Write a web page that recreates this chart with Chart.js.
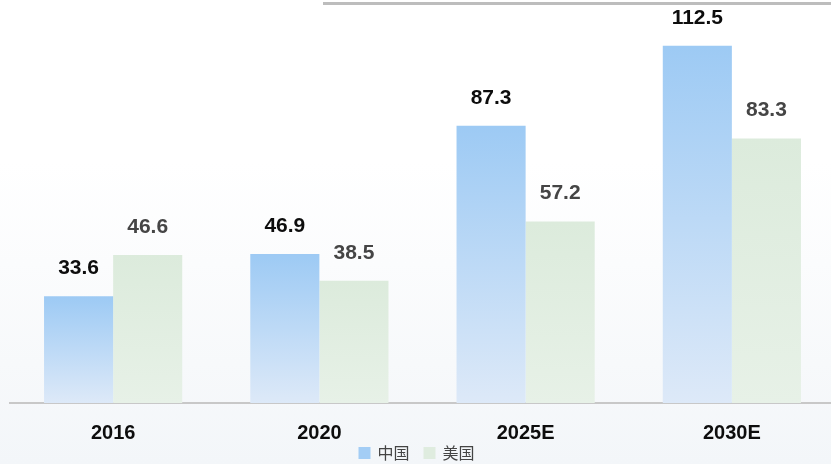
<!DOCTYPE html>
<html>
<head>
<meta charset="utf-8">
<script src="https://cdn.jsdelivr.net/npm/chart.js@4/dist/chart.umd.min.js"></script>
<style>
  html, body { margin: 0; padding: 0; background: #fff; overflow: hidden; }
  #wrap { width: 831px; height: 464px; overflow: hidden; background: linear-gradient(to bottom, #ffffff 0%, #ffffff 35%, #f3f6f9 100%); }
</style>
</head>
<body>
<div id="wrap"><canvas id="c" width="835" height="464"></canvas></div>
<script>
const years = ['2016', '2020', '2025E', '2030E'];
const chinaValues = [33.6, 46.9, 87.3, 112.5];
const usValues = [46.6, 38.5, 57.2, 83.3];
const seriesNames = ['中国', '美国'];

// gradient runs from the top of each bar down to the baseline
function barFill(top, bottom) {
  return function (ctx) {
    const chart = ctx.chart;
    const area = chart.chartArea;
    if (!area || ctx.type !== 'data') return top;
    const y = chart.scales.y.getPixelForValue(ctx.raw);
    const g = chart.ctx.createLinearGradient(0, y, 0, area.bottom);
    g.addColorStop(0, top);
    g.addColorStop(1, bottom);
    return g;
  };
}

const legendSwatches = ['#a3cdf5', '#dfecdf'];

// value labels, grey rule at the top right, small legend under the axis
const decor = {
  id: 'decor',
  beforeDraw(chart) {
    const c = chart.ctx;
    c.save();
    c.fillStyle = '#bdbdbd';
    c.fillRect(323, 2, 512, 3);
    c.restore();
  },
  afterDatasetsDraw(chart) {
    const c = chart.ctx;
    c.save();
    c.font = 'bold 21px "Liberation Sans", Arial, sans-serif';
    c.textAlign = 'center';
    c.textBaseline = 'middle';
    chart.data.datasets.forEach((ds, i) => {
      c.fillStyle = i === 0 ? '#0d0d0d' : '#454545';
      chart.getDatasetMeta(i).data.forEach((bar, j) => {
        c.fillText(ds.data[j].toFixed(1), bar.x, bar.y - 28);
      });
    });
    c.restore();
  },
  afterDraw(chart) {
    const c = chart.ctx;
    c.save();
    c.font = '16px "Noto Sans CJK SC", sans-serif';
    c.textBaseline = 'middle';
    const box = 12, gap = 7, between = 14, y = 453;
    const widths = seriesNames.map(n => c.measureText(n).width);
    let total = 0;
    widths.forEach((w, i) => { total += box + gap + w + (i ? between : 0); });
    let x = 416.5 - total / 2;
    seriesNames.forEach((n, i) => {
      c.fillStyle = legendSwatches[i];
      c.fillRect(x, y - box / 2, box, box);
      c.fillStyle = '#444';
      c.fillText(n, x + box + gap, y);
      x += box + gap + widths[i] + between;
    });
    c.restore();
  }
};

new Chart(document.getElementById('c'), {
  type: 'bar',
  data: {
    labels: years,
    datasets: [
      { label: seriesNames[0], data: chinaValues, backgroundColor: barFill('#9dcaf4', '#dde9f8') },
      { label: seriesNames[1], data: usValues, backgroundColor: barFill('#dcebdc', '#e7f1e7') }
    ]
  },
  options: {
    responsive: false,
    animation: false,
    layout: { padding: { top: 22, left: 10, right: 0, bottom: 21 } },
    datasets: { bar: { barPercentage: 1, categoryPercentage: 0.67 } },
    plugins: {
      legend: { display: false },
      tooltip: { enabled: false }
    },
    scales: {
      y: {
        display: false,
        min: 0,
        max: 120
      },
      x: {
        grid: { display: false },
        border: { color: '#c8c8c8', width: 2 },
        ticks: {
          color: '#0d0d0d',
          padding: 10,
          font: { family: '"Liberation Sans", Arial, sans-serif', size: 20, weight: 'bold' }
        },
        afterFit(scale) { scale.height = 40; }
      }
    }
  },
  plugins: [decor]
});
</script>
</body>
</html>
